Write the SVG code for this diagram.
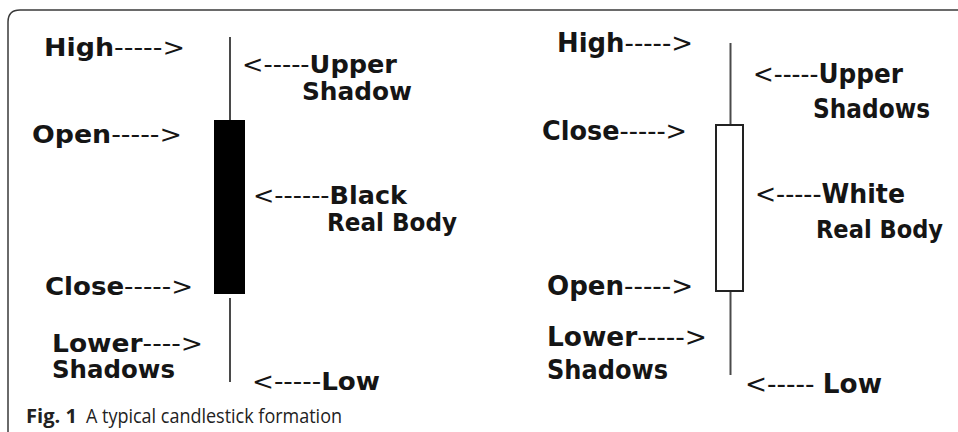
<svg xmlns="http://www.w3.org/2000/svg" width="958" height="432" viewBox="0 0 958 432">
<style>
.lbl{font-family:"DejaVu Sans","Liberation Sans",sans-serif;font-weight:bold;font-size:24px;fill:#151515}
.rl{font-size:26px}
.d{font-weight:normal}
.cap{font-family:"Open Sans","Liberation Sans",sans-serif;font-size:20px;fill:#222}
.wick{stroke:#4a4a4a;stroke-width:2;fill:none}
</style>
<rect x="0" y="0" width="958" height="432" fill="#ffffff"/>
<g id="frame">
<path d="M958 10 H20 Q8 10 8 22 V432" fill="none" stroke="#3a3a3a" stroke-width="1.5"/>
</g>
<g id="connectors">
<line class="wick" x1="230" y1="37" x2="230" y2="120"/>
<line class="wick" x1="230" y1="298" x2="230" y2="382"/>
<line class="wick" x1="730.5" y1="43" x2="730.5" y2="124"/>
<line class="wick" x1="730.5" y1="291" x2="730.5" y2="375"/>
</g>
<g id="black-body">
<rect x="214" y="120" width="31" height="174" fill="#000"/>
</g>
<g id="white-body">
<rect x="716" y="125" width="27" height="166" fill="#fff" stroke="#222" stroke-width="2"/>
</g>
<g id="left-labels">
<text class="lbl" x="44" y="56" textLength="141" lengthAdjust="spacingAndGlyphs">High<tspan class="d">-----&gt;</tspan></text>
<text class="lbl" x="242" y="73" textLength="155" lengthAdjust="spacingAndGlyphs"><tspan class="d">&lt;-----</tspan>Upper</text>
<text class="lbl" x="302" y="100" textLength="110" lengthAdjust="spacingAndGlyphs">Shadow</text>
<text class="lbl" x="32" y="143" textLength="150" lengthAdjust="spacingAndGlyphs">Open<tspan class="d">-----&gt;</tspan></text>
<text class="lbl" x="253" y="204" textLength="154" lengthAdjust="spacingAndGlyphs"><tspan class="d">&lt;------</tspan>Black</text>
<text class="lbl" x="327" y="231" textLength="130" lengthAdjust="spacingAndGlyphs">Real Body</text>
<text class="lbl" x="45" y="295" textLength="148" lengthAdjust="spacingAndGlyphs">Close<tspan class="d">-----&gt;</tspan></text>
<text class="lbl" x="52" y="352" textLength="151" lengthAdjust="spacingAndGlyphs">Lower<tspan class="d">----&gt;</tspan></text>
<text class="lbl" x="52" y="378" textLength="123" lengthAdjust="spacingAndGlyphs">Shadows</text>
<text class="lbl" x="252" y="390" textLength="128" lengthAdjust="spacingAndGlyphs"><tspan class="d">&lt;-----</tspan>Low</text>
</g>
<g id="right-labels">
<text class="lbl rl" x="557" y="52" textLength="136" lengthAdjust="spacingAndGlyphs">High<tspan class="d">-----&gt;</tspan></text>
<text class="lbl rl" x="753" y="83" textLength="150" lengthAdjust="spacingAndGlyphs"><tspan class="d">&lt;-----</tspan>Upper</text>
<text class="lbl rl" x="813" y="118" textLength="117" lengthAdjust="spacingAndGlyphs">Shadows</text>
<text class="lbl rl" x="542" y="140" textLength="145" lengthAdjust="spacingAndGlyphs">Close<tspan class="d">-----&gt;</tspan></text>
<text class="lbl rl" x="755" y="203" textLength="150" lengthAdjust="spacingAndGlyphs"><tspan class="d">&lt;-----</tspan>White</text>
<text class="lbl" x="816" y="238" font-size="23" textLength="127" lengthAdjust="spacingAndGlyphs">Real Body</text>
<text class="lbl rl" x="547" y="295" textLength="146" lengthAdjust="spacingAndGlyphs">Open<tspan class="d">-----&gt;</tspan></text>
<text class="lbl rl" x="547" y="346" textLength="160" lengthAdjust="spacingAndGlyphs">Lower<tspan class="d">-----&gt;</tspan></text>
<text class="lbl rl" x="547" y="379" textLength="121" lengthAdjust="spacingAndGlyphs">Shadows</text>
<text class="lbl rl" x="745" y="393" textLength="137" lengthAdjust="spacingAndGlyphs"><tspan class="d">&lt;----- </tspan>Low</text>
</g>
<g id="caption">
<text class="cap" x="26" y="423" font-weight="bold" textLength="51" lengthAdjust="spacingAndGlyphs">Fig. 1</text>
<text class="cap" x="86" y="423" textLength="256" lengthAdjust="spacingAndGlyphs">A typical candlestick formation</text>
</g>
</svg>
